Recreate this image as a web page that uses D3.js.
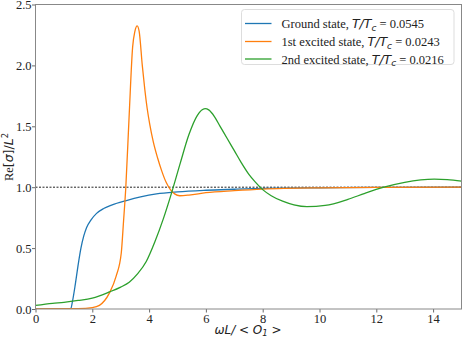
<!DOCTYPE html>
<html lang="en">
  <head>
    <meta charset="UTF-8" />
    <title>Re[sigma]</title>
    <style>
      body { margin: 0; background: #fff; }
      svg text { fill: #222; }
    </style>
  </head>
  <body>
    <svg id="chart" width="462" height="338"></svg>
    <script src="https://cdn.jsdelivr.net/npm/d3@7"></script>
    <script>
      // series (x = omega L / <O1>, y = Re[sigma]/L^2)
      const groundX = [0, 1.24, 1.3, 1.4, 1.5, 1.6, 1.7, 1.8, 1.95, 2.15, 2.4, 2.7, 3.2, 3.7, 4.26, 5, 6, 7, 8, 10, 12, 15];
      const groundY = [0, 0, 0.06, 0.2, 0.36, 0.5, 0.6, 0.67, 0.73, 0.785, 0.825, 0.855, 0.89, 0.92, 0.945, 0.962, 0.975, 0.983, 0.99, 0.995, 0.998, 1.0];

      const firstX = [0, 1.5, 2.0, 2.25, 2.6, 2.84, 3.02, 3.1, 3.18, 3.3, 3.42, 3.5, 3.58, 3.65, 3.76, 3.85, 3.93, 4.02, 4.15, 4.3, 4.45, 4.6, 4.75, 4.9, 5.08, 5.4, 6, 7, 8, 10, 12, 15];
      const firstY = [0, 0.003, 0.012, 0.03, 0.13, 0.27, 0.46, 0.72, 1.0, 1.6, 2.15, 2.28, 2.325, 2.28, 2.0, 1.8, 1.65, 1.52, 1.37, 1.24, 1.13, 1.04, 0.98, 0.945, 0.93, 0.935, 0.955, 0.972, 0.985, 0.995, 0.998, 1.0];

      const secondX = [0, 0.6, 1, 1.5, 2, 2.6, 3.0, 3.3, 3.6, 3.9, 4.2, 4.5, 4.8, 5.1, 5.4, 5.7, 5.97, 6.1, 6.3, 6.5, 6.75, 7.0, 7.25, 7.5, 7.75, 8.0, 8.3, 8.7, 9.1, 9.56, 10.2, 11, 11.6, 12.27, 13, 14.04, 14.5, 15];
      const secondY = [0.03, 0.047, 0.055, 0.07, 0.09, 0.14, 0.18, 0.22, 0.29, 0.39, 0.55, 0.74, 0.96, 1.2, 1.43, 1.59, 1.645, 1.635, 1.58, 1.5, 1.4, 1.3, 1.2, 1.11, 1.04, 0.98, 0.93, 0.885, 0.855, 0.84, 0.85, 0.9, 0.95, 1.0, 1.04, 1.066, 1.063, 1.05];

      const seriesNames = ["Ground state, ", "1st excited state, ", "2nd excited state, "];
      const seriesTemps = ["0.0545", "0.0243", "0.0216"];
      const colors = ["#1f77b4", "#ff7f0e", "#2ca02c"];

      const xTicks = [0, 2, 4, 6, 8, 10, 12, 14];
      const yTicks = [0, 0.5, 1.0, 1.5, 2.0, 2.5];

      const margin = { left: 35.5, top: 4.5, right: 461.5, bottom: 309 };
      const serif = "'Liberation Serif', 'DejaVu Serif', serif";
      const sans = "'DejaVu Sans', sans-serif";

      const svg = d3.select("#chart");
      const x = d3.scaleLinear().domain([0, 15]).range([margin.left, margin.right]);
      const y = d3.scaleLinear().domain([0, 2.5]).range([margin.bottom, margin.top]);

      svg.append("defs").append("clipPath").attr("id", "clip")
        .append("rect")
        .attr("x", margin.left).attr("y", margin.top)
        .attr("width", margin.right - margin.left)
        .attr("height", margin.bottom - margin.top);

      const data = [
        d3.zip(groundX, groundY),
        d3.zip(firstX, firstY),
        d3.zip(secondX, secondY)
      ];

      const line = d3.line()
        .x(d => x(d[0]))
        .y(d => y(d[1]))
        .curve(d3.curveMonotoneX);

      const plot = svg.append("g").attr("clip-path", "url(#clip)");

      // reference line at 1
      plot.append("line")
        .attr("x1", margin.left).attr("x2", margin.right)
        .attr("y1", y(1)).attr("y2", y(1))
        .attr("stroke", "#222").attr("stroke-width", 1)
        .attr("stroke-dasharray", "2,1.5");

      plot.selectAll("path.curve")
        .data(data)
        .join("path")
        .attr("class", "curve")
        .attr("d", line)
        .attr("fill", "none")
        .attr("stroke", (d, i) => colors[i])
        .attr("stroke-width", 1.3);

      // axes
      const xAxis = svg.append("g")
        .attr("transform", `translate(0,${margin.bottom})`)
        .call(d3.axisBottom(x).tickValues(xTicks).tickFormat(d3.format("d")).tickSizeOuter(0).tickSize(3.5));
      const yAxis = svg.append("g")
        .attr("transform", `translate(${margin.left},0)`)
        .call(d3.axisLeft(y).tickValues(yTicks).tickFormat(d3.format(".1f")).tickSizeOuter(0).tickSize(3.5));

      [xAxis, yAxis].forEach(g => {
        g.select(".domain").remove();
        g.selectAll(".tick line").attr("stroke", "#444").attr("stroke-width", 0.8);
        g.selectAll(".tick text")
          .attr("font-family", serif)
          .attr("font-size", 12.5)
          .attr("fill", "#222");
      });
      xAxis.selectAll(".tick text").attr("dy", "0.71em").attr("y", 5);
      yAxis.selectAll(".tick text").attr("x", -4);

      // frame
      svg.append("rect")
        .attr("x", margin.left).attr("y", margin.top)
        .attr("width", margin.right - margin.left)
        .attr("height", margin.bottom - margin.top)
        .attr("fill", "none")
        .attr("stroke", "#888")
        .attr("stroke-width", 1);

      // axis labels
      const xl = svg.append("text")
        .attr("x", 248).attr("y", 334)
        .attr("text-anchor", "middle")
        .attr("font-family", sans)
        .attr("font-size", 12)
        .attr("font-style", "italic");
      xl.append("tspan").text("ωL/ < O");
      xl.append("tspan").attr("font-size", 8.5).attr("dy", 2).text("1");
      xl.append("tspan").attr("dy", -2).text(" >");

      const yl = svg.append("text")
        .attr("transform", `translate(13,157) rotate(-90)`)
        .attr("text-anchor", "middle")
        .attr("font-size", 12.5);
      yl.append("tspan").attr("font-family", serif).text("Re");
      yl.append("tspan").attr("font-family", sans).text("[");
      yl.append("tspan").attr("font-family", sans).attr("font-style", "italic").text("σ");
      yl.append("tspan").attr("font-family", sans).text("]/");
      yl.append("tspan").attr("font-family", sans).attr("font-style", "italic").text("L");
      yl.append("tspan").attr("font-family", sans).attr("font-size", 8.5).attr("dy", -5).text("2");

      // legend
      const legend = svg.append("g");
      legend.append("rect")
        .attr("x", 241.5).attr("y", 9.5)
        .attr("width", 212.5).attr("height", 55)
        .attr("rx", 3)
        .attr("fill", "#fff").attr("fill-opacity", 0.85)
        .attr("stroke", "#ddd").attr("stroke-width", 1);

      const rowY = [23.5, 41.5, 59];
      seriesNames.forEach((name, i) => {
        legend.append("line")
          .attr("x1", 245).attr("x2", 271.5)
          .attr("y1", rowY[i]).attr("y2", rowY[i])
          .attr("stroke", colors[i]).attr("stroke-width", 1.3);
        const t = legend.append("text")
          .attr("x", 281.5).attr("y", rowY[i] + 4.5)
          .attr("font-size", 12.5);
        t.append("tspan").attr("font-family", serif).text(name);
        t.append("tspan").attr("font-family", sans).attr("font-style", "italic").text("T/T");
        t.append("tspan").attr("font-family", sans).attr("font-style", "italic").attr("font-size", 9).attr("dy", 2.5).text("c");
        t.append("tspan").attr("font-family", serif).attr("dy", -2.5).text(" = " + seriesTemps[i]);
      });
    </script>
  </body>
</html>
